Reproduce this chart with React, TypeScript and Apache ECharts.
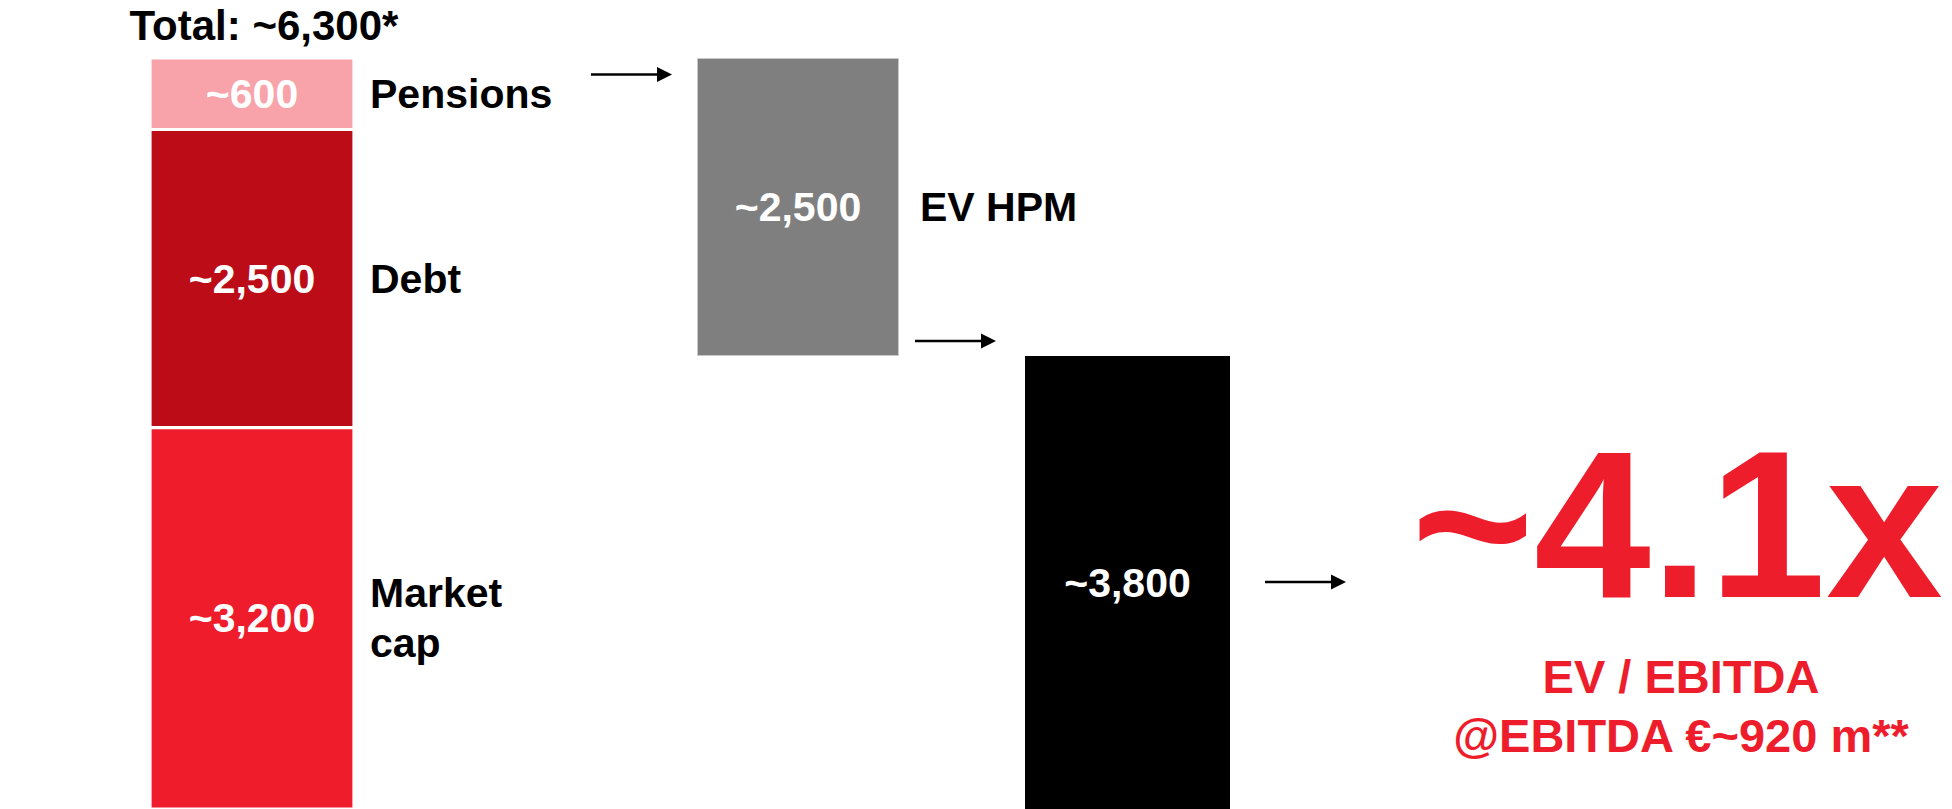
import React, { useEffect, useRef } from "react";
import * as echarts from "echarts";

// ---- data ----
const leftNames = ["Market\ncap", "Debt", "Pensions"];
const leftValues = [3200, 2500, 600];
const evHpmName = ["EV HPM"];
const evHpmValue = [2500];
const netValue = [3800];
const ebitdaValue = [920];

const leftColors = ["#EF1C2C", "#BC0C18", "#F8A3A9"];
const FONT = '"Liberation Sans", Arial, Helvetica, sans-serif';
const RED = "#EE1D2C";
const CLEAR = "rgba(0,0,0,0)";

const fmt = (v: number) => v.toLocaleString("en-US");
const total = leftValues.reduce((a, b) => a + b, 0);
const multiple = (netValue[0] / ebitdaValue[0]).toFixed(1);

const valueLabel = {
  show: true,
  position: "inside",
  color: "#fff",
  fontFamily: FONT,
  fontWeight: "bold",
  fontSize: 41,
  formatter: (p: any) => "~" + fmt(p.value),
};

const nameLabel = (text: string, distance: number) => ({
  show: true,
  position: "right",
  distance,
  color: "#000",
  fontFamily: FONT,
  fontWeight: "bold",
  fontSize: 41,
  lineHeight: 50,
  align: "left",
  formatter: text,
});

function arrow(x1: number, x2: number, y: number) {
  return [
    {
      type: "line",
      shape: { x1, y1: y, x2: x2 - 12, y2: y },
      style: { stroke: "#000", lineWidth: 2.4 },
      silent: true,
    },
    {
      type: "polygon",
      shape: { points: [[x2 - 15, y - 7.5], [x2, y], [x2 - 15, y + 7.5]] },
      style: { fill: "#000" },
      silent: true,
    },
  ];
}

export default function App() {
  const ref = useRef<HTMLDivElement>(null);

  useEffect(() => {
    if (!ref.current) return;
    const chart = echarts.init(ref.current, null, { renderer: "svg" });

    const grids = [
      { left: 150, top: 58, width: 204, height: 753 },
      { left: 697, top: 58, width: 202, height: 753 },
      { left: 1025, top: 58, width: 205, height: 753 },
    ];

    const series: any[] = [];

    // Column 1: stacked composition
    leftValues.forEach((v, i) => {
      series.push({
        type: "bar",
        name: leftNames[i],
        xAxisIndex: 0,
        yAxisIndex: 0,
        stack: "left",
        barWidth: "100%",
        barGap: "-100%",
        data: [v],
        itemStyle: { color: leftColors[i], borderColor: "#fff", borderWidth: 1.6 },
        label: valueLabel,
        z: 3,
      });
    });
    leftValues.forEach((v, i) => {
      series.push({
        type: "bar",
        xAxisIndex: 0,
        yAxisIndex: 0,
        stack: "leftNames",
        barWidth: "100%",
        barGap: "-100%",
        data: [v],
        itemStyle: { color: CLEAR },
        label: nameLabel(leftNames[i], 16),
        silent: true,
        z: 2,
      });
    });
    series.push({
      type: "bar",
      xAxisIndex: 0,
      yAxisIndex: 0,
      stack: "leftTotal",
      barWidth: "100%",
      barGap: "-100%",
      data: [total],
      itemStyle: { color: CLEAR },
      label: {
        show: true,
        position: "top",
        distance: 12,
        offset: [12, 0],
        color: "#000",
        fontFamily: FONT,
        fontWeight: "bold",
        fontSize: 42,
        formatter: "Total: ~" + fmt(total) + "*",
      },
      silent: true,
      z: 1,
    });

    // Column 2: floating EV HPM
    series.push({
      type: "bar",
      xAxisIndex: 1,
      yAxisIndex: 1,
      stack: "mid",
      barWidth: "100%",
      barGap: "-100%",
      data: [total - evHpmValue[0]],
      itemStyle: { color: CLEAR },
      silent: true,
    });
    series.push({
      type: "bar",
      name: evHpmName[0],
      xAxisIndex: 1,
      yAxisIndex: 1,
      stack: "mid",
      barWidth: "100%",
      barGap: "-100%",
      data: evHpmValue,
      itemStyle: { color: "#7F7F7F", borderColor: "#C8C8C8", borderWidth: 1 },
      label: valueLabel,
      z: 3,
    });
    series.push({
      type: "bar",
      xAxisIndex: 1,
      yAxisIndex: 1,
      stack: "midNames",
      barWidth: "100%",
      barGap: "-100%",
      data: [total - evHpmValue[0]],
      itemStyle: { color: CLEAR },
      silent: true,
      z: 1,
    });
    series.push({
      type: "bar",
      xAxisIndex: 1,
      yAxisIndex: 1,
      stack: "midNames",
      barWidth: "100%",
      barGap: "-100%",
      data: evHpmValue,
      itemStyle: { color: CLEAR },
      label: nameLabel(evHpmName[0], 21),
      silent: true,
      z: 1,
    });

    // Column 3: net value
    series.push({
      type: "bar",
      name: "Net",
      xAxisIndex: 2,
      yAxisIndex: 2,
      barWidth: "100%",
      data: netValue,
      itemStyle: { color: "#000" },
      label: valueLabel,
    });

    const option: any = {
      animation: false,
      grid: grids,
      xAxis: grids.map((_, i) => ({
        type: "category",
        gridIndex: i,
        data: ["c" + i],
        show: false,
      })),
      yAxis: grids.map((_, i) => ({
        type: "value",
        gridIndex: i,
        min: 0,
        max: total,
        show: false,
      })),
      series,
      graphic: [
        ...arrow(591, 672, 74.5),
        ...arrow(915, 996, 341),
        ...arrow(1265, 1346, 582),
        {
          type: "text",
          x: 1677,
          y: 524,
          silent: true,
          style: {
            text: "~" + multiple + "x",
            fill: RED,
            font: `bold 210px ${FONT}`,
            align: "center",
            verticalAlign: "middle",
          },
        },
        {
          type: "text",
          x: 1681,
          y: 676,
          silent: true,
          style: {
            text: "EV / EBITDA",
            fill: RED,
            font: `bold 47px ${FONT}`,
            align: "center",
            verticalAlign: "middle",
          },
        },
        {
          type: "text",
          x: 1681,
          y: 735,
          silent: true,
          style: {
            text: "@EBITDA €~" + fmt(ebitdaValue[0]) + " m**",
            fill: RED,
            font: `bold 47px ${FONT}`,
            align: "center",
            verticalAlign: "middle",
          },
        },
      ],
    };

    chart.setOption(option);
    return () => chart.dispose();
  }, []);

  return (
    <div
      ref={ref}
      style={{
        position: "absolute",
        left: 0,
        top: 0,
        width: 1952,
        height: 809,
        background: "#fff",
      }}
    />
  );
}
